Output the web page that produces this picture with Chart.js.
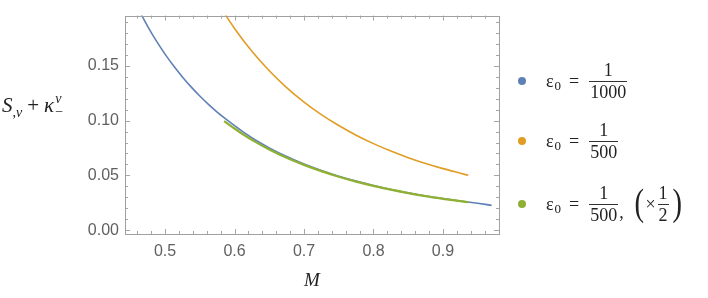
<!DOCTYPE html>
<html>
<head>
<meta charset="utf-8">
<script src="https://cdn.jsdelivr.net/npm/chart.js@4"></script>
<style>
  html, body { margin:0; padding:0; background:#fff; }
  #wrap { position:relative; width:708px; height:298px; overflow:hidden; }
  #c { position:absolute; left:0; top:0; }
  .math { font-family:"Liberation Serif","DejaVu Serif",serif; color:#222; }
  #ytitle { position:absolute; left:2px; top:93px; font-size:21px; white-space:nowrap; }
  #ytitle i { font-style:italic; }
  #ytitle .plus { margin:0 5px; }
  .stack { display:inline-block; vertical-align:middle; line-height:0.95; font-size:14px; text-align:left; position:relative; top:-2px; margin-left:1px; }
  .stack span { display:block; }
  #legend { position:absolute; left:518px; top:0; width:190px; height:298px; }
  .item { position:absolute; left:0; display:flex; align-items:center; font-size:18px; white-space:nowrap; }
  .dot { width:8px; height:8px; border-radius:50%; margin-right:20px; flex:none; }
  .frac { display:inline-flex; flex-direction:column; align-items:center; vertical-align:middle; line-height:1.05; margin:0 2px; }
  .frac .num { padding:0 1px 1px; }
  .frac .den { border-top:1px solid #333; padding:1px 1px 0; }
  .eps { font-style:normal; }
  .sub0 { font-size:13px; position:relative; top:5px; margin-left:1px; }
  .eq { margin:0 8px 0 8px; }
  .big { font-size:38px; font-weight:100; line-height:1; position:relative; top:-2px; transform:scaleX(0.75); display:inline-block; }
</style>
</head>
<body>
<div id="wrap">
  <canvas id="c" width="708" height="298"></canvas>
  <div id="ytitle" class="math"><i>S</i><sub style="font-size:14px">,<i>v</i></sub><span class="plus">+</span><i>κ</i><span class="stack"><span><i>v</i></span><span>−</span></span></div>
  <div id="legend" class="math"></div>
</div>
<script>
// ---- data ----
const mBlue   = [0.4645, 0.475, 0.4875, 0.5, 0.5125, 0.525, 0.5375, 0.55, 0.5625, 0.575, 0.5863, 0.6, 0.615, 0.63, 0.65, 0.675, 0.7, 0.725, 0.75, 0.775, 0.8, 0.825, 0.85, 0.875, 0.9, 0.925, 0.95, 0.97];
const vBlue   = [0.1981, 0.1859, 0.1726, 0.1606, 0.1497, 0.1398, 0.1307, 0.1224, 0.1148, 0.1078, 0.102, 0.0954, 0.0885, 0.0823, 0.0751, 0.0672, 0.0604, 0.0545, 0.0493, 0.0448, 0.0408, 0.0372, 0.0341, 0.0313, 0.0289, 0.0267, 0.0246, 0.0227];
const mOrange = [0.583, 0.6, 0.625, 0.65, 0.675, 0.7, 0.725, 0.75, 0.775, 0.8, 0.825, 0.85, 0.875, 0.9, 0.925, 0.9364];
const vOrange = [0.2002, 0.184, 0.1632, 0.1454, 0.1301, 0.1169, 0.1055, 0.0955, 0.0867, 0.079, 0.0722, 0.0662, 0.0609, 0.0562, 0.052, 0.0501];
const mGreen  = [0.585, 0.6, 0.615, 0.63, 0.65, 0.675, 0.7, 0.725, 0.75, 0.775, 0.8, 0.825, 0.85, 0.875, 0.9, 0.925, 0.9364];
const vGreen  = [0.0995, 0.0928, 0.0864, 0.0806, 0.0737, 0.0661, 0.0596, 0.0539, 0.0488, 0.0444, 0.0405, 0.0370, 0.0339, 0.0311, 0.0287, 0.0265, 0.0256];

const xTickLabels = ['0.5', '0.6', '0.7', '0.8', '0.9'];
const yTickLabels = ['0.00', '0.05', '0.10', '0.15'];
const seriesNames = ['ε0 = 1/1000', 'ε0 = 1/500', 'ε0 = 1/500, (×1/2)'];
const legendDenoms = ['1000', '500', '500'];
const xTitle = 'M';

const colors = ['#5E81B5', '#E19C24', '#8FB032'];

function pts(xs, ys) { return xs.map((x, i) => ({ x: x, y: ys[i] })); }

const frame = {
  id: 'frame',
  afterDatasetsDraw(chart) {
    const { ctx, chartArea: a, scales: { x, y } } = chart;
    ctx.save();
    ctx.strokeStyle = '#a6a6a6';
    ctx.lineWidth = 1;
    ctx.beginPath();
    for (let k = 22; k <= 49; k++) {
      const v = k * 0.02;
      const px = Math.round(x.getPixelForValue(v)) + 0.5;
      if (px < a.left || px > a.right) continue;
      const L = (k % 5 === 0) ? 5 : 3;
      ctx.moveTo(px, a.bottom); ctx.lineTo(px, a.bottom - L);
      ctx.moveTo(px, a.top); ctx.lineTo(px, a.top + L);
    }
    for (let k = 0; k <= 19; k++) {
      const v = k * 0.01;
      const py = Math.round(y.getPixelForValue(v)) + 0.5;
      if (py < a.top || py > a.bottom) continue;
      const L = (k % 5 === 0) ? 5 : 3;
      ctx.moveTo(a.left, py); ctx.lineTo(a.left + L, py);
      ctx.moveTo(a.right, py); ctx.lineTo(a.right - L, py);
    }
    ctx.stroke();
    ctx.strokeStyle = '#a0a0a0';
    ctx.strokeRect(Math.round(a.left) + 0.5, Math.round(a.top) + 0.5, Math.round(a.right - a.left), Math.round(a.bottom - a.top));
    ctx.restore();
  }
};

const chart = new Chart(document.getElementById('c'), {
  type: 'line',
  data: {
    datasets: [
      { label: seriesNames[0], data: pts(mBlue, vBlue), borderColor: colors[0], order: 2 },
      { label: seriesNames[1], data: pts(mOrange, vOrange), borderColor: colors[1], order: 1 },
      { label: seriesNames[2], data: pts(mGreen, vGreen), borderColor: colors[2], order: 0, borderWidth: 2.2 }
    ]
  },
  options: {
    responsive: false,
    animation: false,
    parsing: false,
    elements: {
      point: { radius: 0 },
      line: { borderWidth: 1.6, cubicInterpolationMode: 'monotone', fill: false }
    },
    layout: { padding: { left: 0, right: 209, top: 3, bottom: 0 } },
    plugins: { legend: { display: false }, tooltip: { enabled: false } },
    scales: {
      x: {
        type: 'linear', min: 0.4424, max: 0.9806,
        grid: { display: false, drawTicks: false },
        border: { display: false },
        afterBuildTicks(s) { s.ticks = xTickLabels.map(t => ({ value: parseFloat(t) })); },
        ticks: {
          padding: 8, color: '#606060',
          font: { family: '"Liberation Sans", Arial, sans-serif', size: 16 },
          callback: (v) => xTickLabels.find(t => Math.abs(parseFloat(t) - v) < 1e-9) || ''
        },
        title: {
          display: true, text: xTitle, color: '#222',
          font: { family: '"Liberation Serif", serif', style: 'italic', size: 19 },
          padding: { top: 4, bottom: 6 }
        },
        afterFit(s) { s.height = 64; }
      },
      y: {
        type: 'linear', min: -0.0034, max: 0.1957,
        grid: { display: false, drawTicks: false },
        border: { display: false },
        afterBuildTicks(s) { s.ticks = yTickLabels.map(t => ({ value: parseFloat(t) })); },
        ticks: {
          padding: 6, color: '#606060',
          font: { family: '"Liberation Sans", Arial, sans-serif', size: 16 },
          callback: (v) => yTickLabels.find(t => Math.abs(parseFloat(t) - v) < 1e-9) || ''
        },
        afterFit(s) { s.width = 125; }
      }
    }
  },
  plugins: [frame]
});

// HTML legend built from datasets
const legend = document.getElementById('legend');
const tops = [61, 121, 184];
chart.data.datasets.forEach((ds, i) => {
  const it = document.createElement('div');
  it.className = 'item';
  it.style.top = tops[i] + 'px';
  let html = '<span class="dot" style="background:' + ds.borderColor + '"></span>' +
    '<span class="eps">ε</span><span class="sub0">0</span><span class="eq">=</span>' +
    '<span class="frac"><span class="num">1</span><span class="den">' + legendDenoms[i] + '</span></span>';
  if (i === 2) {
    html += '<span style="margin-left:-1px;position:relative;top:8px">,</span>' +
      '<span class="big" style="margin-left:9px">(</span><span>×</span>' +
      '<span class="frac"><span class="num">1</span><span class="den">2</span></span>' +
      '<span class="big">)</span>';
  }
  it.innerHTML = html;
  legend.appendChild(it);
});
</script>
</body>
</html>
